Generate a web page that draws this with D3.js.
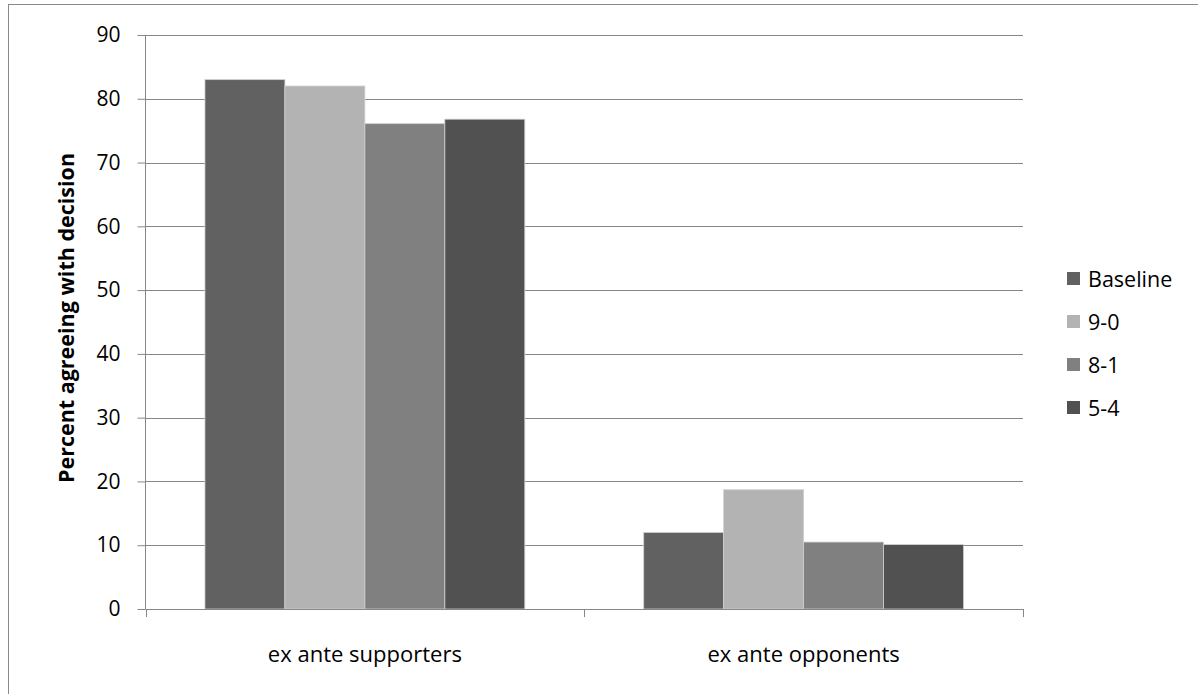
<!DOCTYPE html>
<html><head><meta charset="utf-8">
<script src="https://cdn.jsdelivr.net/npm/d3@7"></script>
<style>body{margin:0;background:#fff;} svg{display:block;font-family:"Open Sans",sans-serif;}</style>
</head><body><svg id="c" width="1198" height="694"></svg>
<script>
const categories = ["ex ante supporters", "ex ante opponents"];
const seriesNames = ["Baseline", "9-0", "8-1", "5-4"];
const baseline = [83.0, 12.0];
const s90 = [82.0, 18.7];
const s81 = [76.1, 10.5];
const s54 = [76.8, 10.1];
const yTicks = [0, 10, 20, 30, 40, 50, 60, 70, 80, 90];
const colors = ["#616161", "#b3b3b3", "#808080", "#515151"];
const yTitle = "Percent agreeing with decision";

const series = [baseline, s90, s81, s54];
const FONT = "'Open Sans', sans-serif";
const svg = d3.select("#c");
svg.append("rect").attr("x", 8.5).attr("y", 4.5).attr("width", 1300).attr("height", 800)
  .attr("fill", "none").attr("stroke", "#8a8a8a").attr("stroke-width", 1);

const L = 145.5, R = 1023, T = 35, B = 609;
const x = d3.scaleBand().domain(categories).range([L, R]).paddingInner(0).paddingOuter(0);
const y = d3.scaleLinear().domain([0, 90]).range([B, T]);

// gridlines
svg.append("g").selectAll("line").data(yTicks.filter(d => d > 0)).join("line")
  .attr("x1", L).attr("x2", R).attr("y1", d => Math.round(y(d)) + 0.5).attr("y2", d => Math.round(y(d)) + 0.5)
  .attr("stroke", "#878787").attr("stroke-width", 1);

// bars
const bandW = x.bandwidth();
const groupW = bandW * 0.729;
const barW = groupW / 4;
const off = (bandW - groupW) / 2;
series.forEach((vals, si) => {
  svg.append("g").selectAll("rect").data(categories).join("rect")
    .attr("x", (c) => x(c) + off + si * barW)
    .attr("width", barW)
    .attr("y", (c, i) => y(vals[i]))
    .attr("height", (c, i) => y(0) - y(vals[i]))
    .attr("fill", colors[si])
    .attr("stroke", "#d0d0d0").attr("stroke-width", 0.8);
});

// y axis
const yAxis = d3.axisLeft(y).tickValues(yTicks).tickSize(8).tickPadding(17);
const gy = svg.append("g").attr("transform", `translate(${L},0)`).call(yAxis);
gy.select(".domain").attr("stroke", "#878787").attr("d", `M0,${T}V${B}`);
gy.selectAll(".tick line").attr("stroke", "#878787");
gy.selectAll("text").attr("font-family", FONT).attr("font-size", 21).attr("fill", "#000");

// x axis
svg.append("line").attr("x1", L).attr("x2", R).attr("y1", B + 0.5).attr("y2", B + 0.5).attr("stroke", "#878787");
const xTickPos = [L, L + bandW, R];
svg.append("g").selectAll("line").data(xTickPos).join("line")
  .attr("x1", d => Math.round(d) + 0.5).attr("x2", d => Math.round(d) + 0.5)
  .attr("y1", B).attr("y2", B + 8).attr("stroke", "#878787");
svg.append("g").selectAll("text").data(categories).join("text")
  .attr("x", d => x(d) + bandW / 2).attr("y", 662)
  .attr("text-anchor", "middle").attr("font-family", FONT).attr("font-size", 22).attr("fill", "#000").text(d => d);

// y title
svg.append("text").attr("transform", `translate(74,318) rotate(-90)`)
  .attr("text-anchor", "middle").attr("font-family", FONT).attr("font-weight", "bold").attr("font-size", 21.5).attr("fill", "#000")
  .text(yTitle);

// legend
const lg = svg.append("g");
seriesNames.forEach((n, i) => {
  const yy = 279 + i * 43;
  lg.append("rect").attr("x", 1067).attr("y", yy - 7).attr("width", 13).attr("height", 13).attr("fill", colors[i]);
  lg.append("text").attr("x", 1088).attr("y", yy + 7.5).attr("font-family", FONT).attr("font-size", 21.5).attr("fill", "#000").text(n);
});
</script></body></html>
